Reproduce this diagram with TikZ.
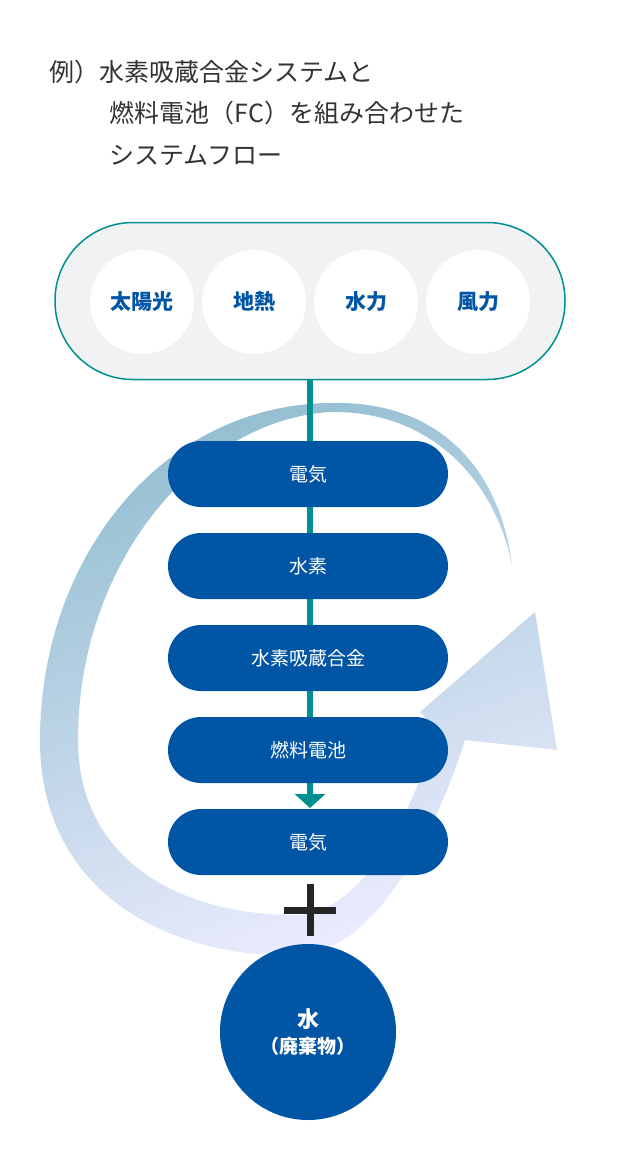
\documentclass[tikz,border=0pt]{standalone}
\usepackage{fontspec}
\setmainfont{Noto Sans CJK JP}
\usetikzlibrary{arrows.meta}
\definecolor{tblue}{HTML}{0055A5}
\definecolor{teal}{HTML}{00908F}
\definecolor{capfill}{HTML}{F0F2F4}
\definecolor{txt}{HTML}{333333}
\begin{document}
\begin{tikzpicture}[x=1pt,y=-1pt,
  src/.style={circle,fill=white,minimum size=104pt,inner sep=0pt,text=tblue,font=\fontsize{21}{24}\selectfont\bfseries},
  pill/.style={rounded corners=33pt,fill=tblue,minimum width=280pt,minimum height=66pt,text=white,font=\fontsize{19}{22}\selectfont}]
\useasboundingbox (0,0) rectangle (616,1170);
% title
\node[anchor=west,text=txt,font=\fontsize{25}{28}\selectfont] (t1) at (46,72) {例）水素吸蔵合金システムと};
\node[anchor=west,text=txt,font=\fontsize{25}{28}\selectfont] (t2) at (106,113) {燃料電池（FC）を組み合わせた};
\node[anchor=west,text=txt,font=\fontsize{25}{28}\selectfont] (t3) at (106,155) {システムフロー};
% big arrow band
\path[top color=blue!30!cyan!40!gray!60, bottom color=white!93!blue, shading angle=20]
  (512,565) .. controls (500,470) and (440,400) .. (330,403)
  .. controls (160,405) and (40,560) .. (40,740)
  .. controls (40,900) and (180,960) .. (300,955)
  .. controls (380,950) and (440,820) .. (465,740)
  -- (557,750) -- (535,612) -- (420,712) -- (437,730)
  .. controls (410,820) and (360,915) .. (295,915)
  .. controls (180,915) and (78,860) .. (78,740)
  .. controls (78,560) and (200,420) .. (330,412)
  .. controls (430,410) and (495,480) .. (512,565) -- cycle;
% capsule
\node[draw=teal,line width=1.5pt,fill=capfill,rounded corners=78pt,minimum width=510pt,minimum height=157pt] (cap) at (310,301) {};
\node[src] (s1) at (142,302) {太陽光};
\node[src] (s2) at (254,302) {地熱};
\node[src] (s3) at (366,302) {水力};
\node[src] (s4) at (478,302) {風力};
\coordinate (ae) at (310,808);
\draw[teal,line width=6pt,-{Triangle[length=14pt,width=30pt]}] (cap.south) -- (ae);
\node[pill] (p1) at (308,474) {電気};
\node[pill] (p2) at (308,566) {水素};
\node[pill] (p3) at (308,658) {水素吸蔵合金};
\node[pill] (p4) at (308,750) {燃料電池};
\node[pill] (p5) at (308,842) {電気};
\node[inner sep=0pt] (plus) at (310,910) {};
\draw[line width=7pt,black!85] (284,910) -- (336,910) (310,884) -- (310,936);
\node[circle,fill=tblue,minimum size=176pt,text=white,align=center,font=\fontsize{22}{30}\selectfont\bfseries] (w) at (308,1032) {水\\[-4pt]{\fontsize{19}{24}\selectfont（廃棄物）}};
\end{tikzpicture}
\end{document}
